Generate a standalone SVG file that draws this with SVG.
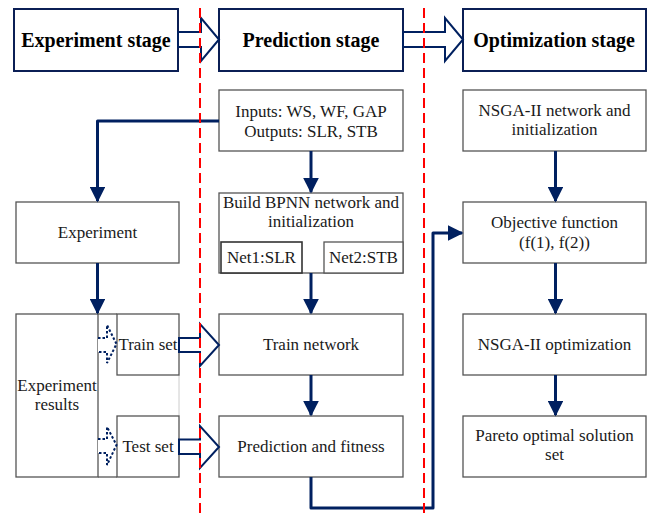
<svg xmlns="http://www.w3.org/2000/svg" width="648" height="513" viewBox="0 0 648 513">
<defs>
<style>
.box{fill:#fff;stroke:#555;stroke-width:1.3}
.stage{fill:#fff;stroke:#0b1f55;stroke-width:2}
.t{font-family:"Liberation Serif","Times New Roman",serif;font-size:17px;fill:#1a1a1a;text-anchor:middle}
.st{font-family:"Liberation Serif","Times New Roman",serif;font-size:20px;font-weight:bold;fill:#000;text-anchor:middle}
.conn{fill:none;stroke:#002060;stroke-width:3;stroke-linejoin:round}
.hollow{fill:#fff;stroke:#002060;stroke-width:2;stroke-linejoin:miter}
.dash{fill:#fff;stroke:#002060;stroke-width:2;stroke-dasharray:2.5,2}
.red{stroke:#ff0000;stroke-width:2;stroke-dasharray:10,5;fill:none}
</style>
<marker id="ah" viewBox="0 0 10 10" refX="9" refY="5" markerWidth="5.3" markerHeight="5.3" orient="auto" markerUnits="strokeWidth">
<path d="M0,0 L10,5 L0,10 z" fill="#002060"/>
</marker>
</defs>

<g id="stage-experiment"><rect class="stage" x="14" y="9" width="164" height="62"/><text class="st" x="96" y="47">Experiment stage</text></g>
<g id="stage-prediction"><rect class="stage" x="219" y="9" width="184" height="62"/><text class="st" x="311" y="47">Prediction stage</text></g>
<g id="stage-optimization"><rect class="stage" x="463" y="9" width="183" height="62"/><text class="st" x="554" y="47">Optimization stage</text></g>

<g id="experiment"><rect class="box" x="16" y="202" width="163" height="61"/><text class="t" x="97.5" y="238">Experiment</text></g>
<g id="experiment-results">
<rect class="box" x="16" y="314" width="82" height="163"/>
<line x1="98" y1="314" x2="117" y2="314" stroke="#555" stroke-width="1.3"/>
<line x1="98" y1="477" x2="117" y2="477" stroke="#555" stroke-width="1.3"/>
<line x1="179" y1="375" x2="179" y2="416" stroke="#ccc" stroke-width="1"/>
<text class="t" x="57" y="391">Experiment</text><text class="t" x="57" y="410">results</text>
</g>
<g id="train-set"><rect class="box" x="117" y="314" width="62" height="61"/><text class="t" x="148" y="350" textLength="59" lengthAdjust="spacingAndGlyphs">Train set</text></g>
<g id="test-set"><rect class="box" x="117" y="416" width="62" height="61"/><text class="t" x="148" y="452">Test set</text></g>

<g id="inputs"><rect class="box" x="219" y="90" width="184" height="61"/><text class="t" x="311" y="117">Inputs: WS, WF, GAP</text><text class="t" x="311" y="137">Outputs: SLR, STB</text></g>
<g id="build-bpnn">
<rect class="box" x="219" y="193" width="184" height="80"/>
<text class="t" x="311" y="208">Build BPNN network and</text><text class="t" x="311" y="227">initialization</text>
<rect x="221" y="242" width="81" height="31" fill="#fff" stroke="#333" stroke-width="1.6"/>
<text class="t" x="261.5" y="263">Net1:SLR</text>
<rect class="box" x="324" y="242" width="79" height="31"/>
<text class="t" x="363.5" y="263">Net2:STB</text>
</g>
<g id="train-network"><rect class="box" x="219" y="314" width="184" height="61"/><text class="t" x="311" y="350">Train network</text></g>
<g id="prediction-fitness"><rect class="box" x="219" y="416" width="184" height="61"/><text class="t" x="311" y="452">Prediction and fitness</text></g>

<g id="nsga-init"><rect class="box" x="463" y="90" width="183" height="61"/><text class="t" x="554.5" y="116">NSGA-II network and</text><text class="t" x="554.5" y="135">initialization</text></g>
<g id="objective"><rect class="box" x="463" y="202" width="183" height="61"/><text class="t" x="554.5" y="228">Objective function</text><text class="t" x="554.5" y="248">(f(1), f(2))</text></g>
<g id="nsga-opt"><rect class="box" x="463" y="314" width="183" height="61"/><text class="t" x="554.5" y="350">NSGA-II optimization</text></g>
<g id="pareto"><rect class="box" x="463" y="416" width="183" height="61"/><text class="t" x="554.5" y="441">Pareto optimal solution</text><text class="t" x="554.5" y="460">set</text></g>

<g id="connectors">
<path class="hollow" d="M178,32 H201 V18 L219,39.5 L201,61 V47 H178 Z"/>
<path class="hollow" d="M403,32 H445 V18 L463,39.5 L445,61 V47 H403 Z"/>
<path class="hollow" d="M179,338 H200 V324 L219,345 L200,366 V352 H179 Z"/>
<path class="hollow" d="M179,439.5 H200 V426 L219,447 L200,468 V454 H179 Z"/>
<path class="dash" d="M98,338 H107 V325 L116.5,344 L107,363 V352 H98"/>
<path class="dash" d="M98,439 H107 V427 L116.5,445 L107,465 V453 H98"/>
<path class="conn" d="M219,121 H97.5 V201" marker-end="url(#ah)"/>
<path class="conn" d="M97.5,263 V313" marker-end="url(#ah)"/>
<path class="conn" d="M311,151 V192" marker-end="url(#ah)"/>
<path class="conn" d="M311,273 V313" marker-end="url(#ah)"/>
<path class="conn" d="M311,375 V415" marker-end="url(#ah)"/>
<path class="conn" d="M311,477 V508 H433 V233 H462" marker-end="url(#ah)"/>
<path class="conn" d="M555.5,151 V201" marker-end="url(#ah)"/>
<path class="conn" d="M555.5,263 V313" marker-end="url(#ah)"/>
<path class="conn" d="M555.5,375 V415" marker-end="url(#ah)"/>
</g>

<g id="dividers">
<line class="red" x1="200" y1="8" x2="200" y2="513"/>
<line class="red" x1="424" y1="8" x2="424" y2="513"/>
</g>
</svg>
